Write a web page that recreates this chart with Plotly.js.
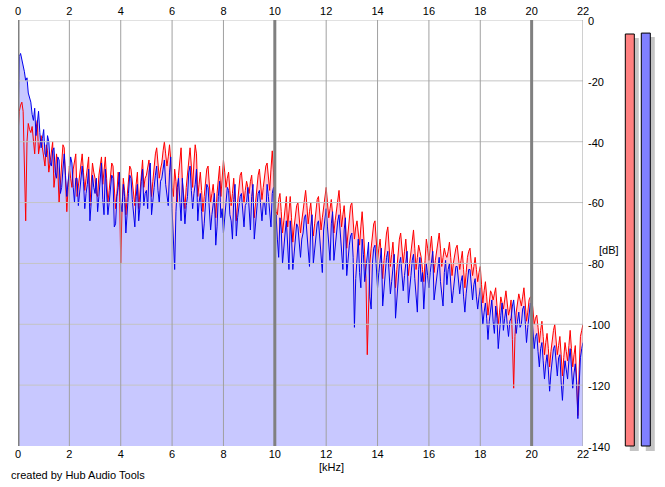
<!DOCTYPE html>
<html>
<head>
<meta charset="utf-8">
<script src="https://cdn.plot.ly/plotly-3.0.1.min.js"></script>
<style>html,body{margin:0;padding:0;background:#fff;}#chart{width:665px;height:487px;}</style>
</head>
<body>
<div id="chart"></div>
<script>
// ---- data (dB) sampled every 0.05 kHz from 0 to 22 kHz ----
const freqStart = 0;
const freqStep = 0.05;

const leftDb = [ // red channel
-38,-30,-28,-27,-30,-45,-66,-40,-34,-36,-37,-35,-40,-44,-36,-33,-44,-41,-38,-42,
-45,-48,-41,-43,-50,-46,-42,-40,-55,-51,-44,-49,-60,-53,-46,-41,-42,-52,-63,-55,
-48,-52,-55,-49,-46,-44,-58,-54,-50,-47,-44,-50,-56,-52,-49,-45,-61,-55,-47,-50,
-52,-57,-58,-51,-48,-45,-54,-49,-45,-52,-60,-56,-51,-47,-48,-55,-62,-57,-50,-53,
-80,-62,-52,-56,-64,-58,-53,-48,-49,-53,-58,-61,-54,-50,-62,-57,-50,-46,-55,-52,
-51,-48,-46,-52,-58,-53,-48,-44,-42,-47,-52,-49,-47,-43,-40,-44,-48,-45,-41,-46,
-55,-58,-49,-53,-60,-51,-45,-42,-53,-58,-62,-55,-50,-46,-42,-48,-55,-47,-41,-44,
-58,-54,-50,-56,-63,-58,-53,-49,-48,-55,-60,-57,-54,-59,-65,-57,-51,-48,-58,-52,
-46,-50,-55,-52,-50,-56,-61,-57,-52,-59,-66,-60,-55,-51,-50,-55,-60,-56,-53,-55,
-57,-53,-51,-58,-65,-60,-55,-51,-49,-53,-59,-55,-52,-48,-47,-51,-56,-49,-43,-50,
-60,-63,-64,-59,-57,-63,-70,-66,-62,-58,-68,-63,-58,-65,-73,-68,-64,-61,-60,-65,
-70,-66,-62,-58,-56,-61,-67,-63,-60,-66,-71,-67,-63,-59,-58,-63,-69,-65,-61,-57,
-55,-60,-65,-62,-59,-64,-70,-66,-62,-58,-56,-62,-68,-64,-61,-67,-75,-70,-64,-61,
-60,-66,-72,-68,-66,-70,-74,-68,-63,-69,-77,-85,-110,-90,-80,-75,-70,-67,-66,-72,
-79,-75,-72,-78,-85,-79,-74,-70,-68,-74,-81,-77,-73,-80,-88,-82,-76,-72,-70,-75,
-80,-76,-72,-78,-84,-80,-76,-72,-69,-75,-82,-78,-74,-76,-78,-82,-86,-79,-72,-75,
-79,-75,-71,-77,-83,-79,-76,-73,-70,-75,-81,-78,-75,-77,-78,-76,-73,-78,-84,-80,
-77,-75,-74,-78,-82,-79,-76,-82,-88,-83,-78,-76,-75,-80,-84,-81,-78,-82,-86,-83,
-81,-87,-93,-89,-86,-91,-97,-93,-89,-90,-92,-90,-88,-94,-100,-96,-91,-93,-95,-92,
-89,-93,-97,-95,-92,-105,-121,-104,-96,-93,-90,-92,-94,-91,-88,-93,-99,-96,-92,-91,
-91,-95,-100,-98,-97,-101,-106,-102,-99,-104,-110,-106,-103,-108,-114,-109,-105,-102,-100,-105,
-110,-107,-104,-110,-117,-111,-106,-109,-112,-107,-102,-108,-114,-110,-107,-118,-130,-115,-104,-102,
-100
];

const rightDb = [ // blue channel
-35,-12,-11,-13,-14,-17,-20,-19,-24,-26,-27,-31,-33,-29,-38,-34,-30,-37,-42,-39,
-36,-44,-45,-38,-40,-47,-48,-43,-42,-50,-52,-45,-46,-57,-55,-49,-44,-51,-58,-53,
-50,-45,-47,-55,-60,-52,-52,-61,-56,-51,-48,-53,-62,-57,-54,-49,-66,-60,-51,-55,
-57,-52,-63,-58,-53,-47,-59,-64,-49,-55,-64,-60,-56,-51,-52,-68,-67,-58,-55,-50,
-60,-63,-54,-58,-70,-62,-57,-51,-52,-59,-63,-68,-58,-54,-66,-61,-53,-49,-61,-57,
-56,-62,-50,-47,-64,-58,-55,-51,-48,-56,-60,-53,-52,-49,-46,-54,-57,-61,-50,-45,
-62,-70,-82,-63,-55,-52,-60,-66,-52,-58,-67,-61,-58,-50,-48,-56,-62,-57,-54,-49,
-66,-60,-57,-63,-72,-67,-60,-54,-55,-61,-69,-64,-61,-57,-74,-68,-58,-53,-65,-62,
-70,-63,-60,-55,-56,-64,-66,-72,-59,-54,-71,-65,-62,-58,-57,-63,-68,-61,-60,-55,
-64,-69,-58,-54,-72,-66,-61,-57,-56,-62,-66,-60,-60,-64,-54,-58,-63,-68,-57,-55,
-68,-64,-72,-78,-65,-69,-80,-74,-70,-66,-76,-82,-66,-71,-82,-77,-72,-67,-68,-74,
-78,-72,-70,-65,-64,-70,-75,-81,-68,-64,-80,-75,-71,-67,-66,-72,-77,-83,-69,-65,
-62,-68,-73,-79,-67,-63,-79,-74,-70,-66,-64,-71,-76,-82,-69,-65,-84,-78,-74,-71,
-70,-78,-101,-85,-76,-72,-83,-88,-72,-77,-86,-81,-78,-73,-91,-95,-80,-75,-74,-82,
-88,-83,-79,-75,-94,-88,-82,-78,-76,-84,-90,-86,-81,-77,-98,-91,-85,-80,-78,-84,
-89,-84,-80,-76,-93,-87,-84,-79,-77,-85,-91,-96,-82,-78,-86,-83,-95,-89,-80,-84,
-88,-83,-79,-76,-92,-88,-84,-80,-78,-86,-90,-94,-83,-79,-87,-82,-80,-86,-93,-89,
-85,-81,-81,-87,-90,-86,-84,-91,-96,-90,-86,-82,-82,-88,-92,-87,-85,-91,-95,-91,
-88,-94,-100,-96,-93,-98,-105,-99,-96,-92,-99,-103,-94,-98,-108,-101,-97,-93,-102,-98,
-95,-100,-104,-99,-98,-94,-92,-97,-103,-99,-96,-101,-100,-95,-94,-99,-106,-101,-97,-93,
-96,-102,-108,-104,-103,-109,-114,-108,-106,-112,-118,-113,-110,-115,-122,-116,-112,-108,-107,-113,
-117,-111,-110,-119,-125,-117,-112,-115,-118,-112,-108,-114,-121,-116,-113,-119,-131,-120,-111,-108,
-106
];

const meterLabels = ['L', 'R'];
const meterDb = [-4.6, -4.3];

const xTicks = [0,2,4,6,8,10,12,14,16,18,20,22];
const xMajorTicks = [0,10,20];
const yTicks = [0,-20,-40,-60,-80,-100,-120,-140];
const xRange = [0, 22];
const yRange = [-140, 0];

// ---- build ----
const freq = leftDb.map((_, i) => +(freqStart + i * freqStep).toFixed(2));
const floor = freq.map(() => yRange[0]);

const W = 665, H = 487;
const M = {l: 18, r: 5, t: 20, b: 30};
const PW = W - M.l - M.r, PH = H - M.t - M.b;
const px2xp = p => (p - M.l) / PW;
const px2yp = p => (H - M.b - p) / PH;

const traces = [];
// red fill
traces.push({x: freq, y: floor, mode: 'lines', line: {width: 0}, hoverinfo: 'skip', showlegend: false});
traces.push({x: freq, y: leftDb, mode: 'lines', line: {width: 0}, fill: 'tonexty', fillcolor: '#ffc8d4', hoverinfo: 'skip', showlegend: false});
// blue fill
traces.push({x: freq, y: floor, mode: 'lines', line: {width: 0}, hoverinfo: 'skip', showlegend: false});
traces.push({x: freq, y: rightDb, mode: 'lines', line: {width: 0}, fill: 'tonexty', fillcolor: '#c8c8ff', hoverinfo: 'skip', showlegend: false});
// lines
traces.push({x: freq, y: leftDb, mode: 'lines', line: {color: '#ff0000', width: 1}, showlegend: false, hoverinfo: 'skip'});
traces.push({x: freq, y: rightDb, mode: 'lines', line: {color: '#0000ee', width: 1}, showlegend: false, hoverinfo: 'skip'});
// grid on top
yTicks.filter(t => t !== yRange[0]).forEach(t => {
  traces.push({x: xRange, y: [t, t], mode: 'lines', line: {color: '#c4c4c4', width: 1}, showlegend: false, hoverinfo: 'skip'});
});
xTicks.forEach(t => {
  const major = xMajorTicks.includes(t);
  traces.push({x: [t, t], y: yRange, mode: 'lines', line: {color: major ? '#808080' : '#a0a0a0', width: major ? 3 : 1}, showlegend: false, hoverinfo: 'skip'});
});
// top axis carrier (invisible)
traces.push({x: xRange, y: yRange, xaxis: 'x2', mode: 'markers', marker: {opacity: 0}, showlegend: false, hoverinfo: 'skip'});

// meters: shadow then bars
const meterX = meterLabels.map((_, i) => i);
const shadowBase = yRange[0] - 1.64;
traces.push({type: 'bar', x: meterX.map(v => v + 0.28), y: meterDb.map(v => (v - 1.3) - shadowBase), base: meterDb.map(() => shadowBase),
  width: 0.5625, marker: {color: '#c4c4c4', line: {width: 0}}, xaxis: 'x3', yaxis: 'y3', showlegend: false, hoverinfo: 'skip'});
traces.push({type: 'bar', x: meterX, y: meterDb.map(v => v - yRange[0]), base: meterDb.map(() => yRange[0]),
  width: 0.5625, marker: {color: ['#ff8080', '#8080ff'], line: {color: '#000', width: 1}}, xaxis: 'x3', yaxis: 'y3', showlegend: false, hoverinfo: 'skip'});

const font = {family: 'Liberation Sans, Arial, sans-serif', size: 11, color: '#000'};
const mainDomainX = [0, px2xp(583)];
const mainDomainY = [px2yp(446), 1];
const meterPxPerUnit = 16;
const meterCenter0 = 629.8;
const m3lo = meterCenter0 - 0.75 * meterPxPerUnit, m3hi = meterCenter0 + 1.75 * meterPxPerUnit;

const layout = {
  width: W, height: H,
  margin: M,
  paper_bgcolor: '#fff', plot_bgcolor: 'rgba(0,0,0,0)',
  font: font,
  showlegend: false,
  barmode: 'overlay',
  xaxis: {domain: mainDomainX, range: xRange, tickvals: xTicks, ticktext: xTicks.map(String), showgrid: false, zeroline: false, showline: false, ticks: '', tickfont: font, anchor: 'y', fixedrange: true},
  xaxis2: {domain: mainDomainX, range: xRange, overlaying: 'x', side: 'top', anchor: 'y', tickvals: xTicks, ticktext: xTicks.map(String), showgrid: false, zeroline: false, showline: false, ticks: '', ticklabelstandoff: 2, tickfont: font, fixedrange: true},
  yaxis: {domain: mainDomainY, range: yRange, side: 'right', tickvals: yTicks, ticktext: yTicks.map(String), showgrid: false, zeroline: false, showline: false, ticks: '', ticklabelstandoff: 4, ticklabelshift: 1, tickfont: font, anchor: 'x', fixedrange: true},
  xaxis3: {domain: [px2xp(m3lo), px2xp(m3hi)], range: [-0.75, 1.75], visible: false, anchor: 'y3', fixedrange: true},
  yaxis3: {domain: [0, 1], range: [yRange[1] - (457 - 20) / ((446 - 20) / (yRange[1] - yRange[0])), yRange[1]], visible: false, anchor: 'x3', fixedrange: true},
  annotations: [
    {text: '[dB]', xref: 'paper', yref: 'paper', x: px2xp(597), y: px2yp(250), xanchor: 'left', yanchor: 'middle', showarrow: false, font: font},
    {text: '[kHz]', xref: 'paper', yref: 'paper', x: px2xp(331), y: px2yp(467), xanchor: 'center', yanchor: 'middle', showarrow: false, font: font},
    {text: 'created by Hub Audio Tools', xref: 'paper', yref: 'paper', x: px2xp(9), y: px2yp(475), xanchor: 'left', yanchor: 'middle', showarrow: false, font: font}
  ]
};

Plotly.newPlot('chart', traces, layout, {displayModeBar: false, staticPlot: true});
</script>
</body>
</html>
